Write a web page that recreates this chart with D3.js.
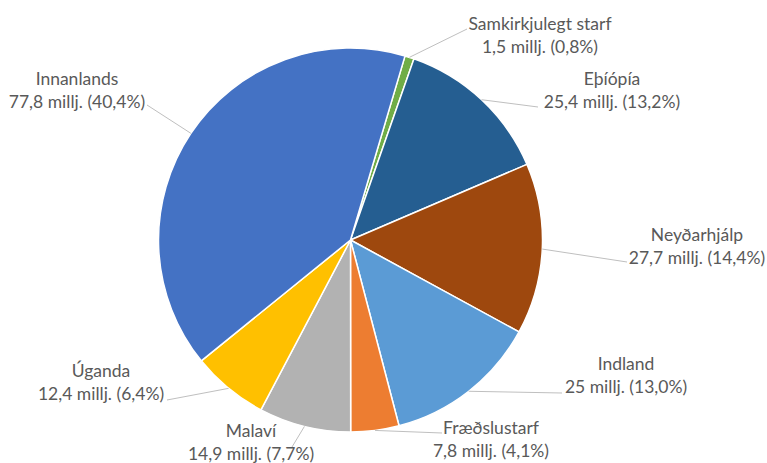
<!DOCTYPE html>
<html><head><meta charset="utf-8">
<script src="https://cdn.jsdelivr.net/npm/d3@7"></script>
<style>body{margin:0;background:#fff}svg{display:block}</style>
</head><body>
<svg id="c" width="767" height="463"></svg>
<script>
const categories = ["Samkirkjulegt starf","Eþíópía","Neyðarhjálp","Indland","Fræðslustarf","Malaví","Úganda","Innanlands"];
const values = [1.5, 25.4, 27.7, 25, 7.8, 14.9, 12.4, 77.8];
const valueLabels = ["1,5","25,4","27,7","25","7,8","14,9","12,4","77,8"];
const percentLabels = ["0,8%","13,2%","14,4%","13,0%","4,1%","7,7%","6,4%","40,4%"];
const colors = ["#70AD47","#255E91","#9E480E","#5B9BD5","#ED7D31","#B2B2B2","#FFC000","#4472C4"];

// label layout: text centre x, baseline of first line, leader end point
const labelLayout = [
  {cx:540, b:30, ex:467, ey:29},
  {cx:612, b:85, ex:538, ey:107},
  {cx:697, b:241, ex:627, ey:262},
  {cx:626, b:370, ex:562, ey:393},
  {cx:491, b:434, ex:442, ey:433},
  {cx:251, b:437, ex:292, ey:447},
  {cx:101, b:377, ex:167, ey:400},
  {cx:77, b:85, ex:147, ey:105}
];

const svg = d3.select("#c");
const cx = 350.5, cy = 240, r = 192;
const start = 16.5 * Math.PI / 180;
const pie = d3.pie().sort(null).value(d => d).startAngle(start).endAngle(start + 2*Math.PI);
const arcs = pie(values);
const arc = d3.arc().innerRadius(0).outerRadius(r);
const g = svg.append("g").attr("transform", `translate(${cx},${cy})`);
g.selectAll("path").data(arcs).join("path")
  .attr("d", arc).attr("fill", (d,i) => colors[i])
  .attr("stroke", "#fff").attr("stroke-width", 1.5).attr("stroke-linejoin","round");

// leaders
arcs.forEach((a,i) => {
  const m = (a.startAngle + a.endAngle)/2;
  const sx = cx + r*Math.sin(m), sy = cy - r*Math.cos(m);
  const L = labelLayout[i];
  svg.append("line").attr("x1",sx).attr("y1",sy).attr("x2",L.ex).attr("y2",L.ey)
    .attr("stroke","#BFBFBF").attr("stroke-width",1);
});

const font = "Lato, 'Liberation Sans', sans-serif";
labelLayout.forEach((L,i) => {
  const t = svg.append("text").attr("text-anchor","middle")
    .attr("font-family", font).attr("font-size", 17.5).attr("fill","#595959");
  t.append("tspan").attr("x", L.cx).attr("y", L.b).text(categories[i]);
  t.append("tspan").attr("x", L.cx).attr("y", L.b + 23).text(`${valueLabels[i]} millj. (${percentLabels[i]})`);
});
</script>
</body></html>
